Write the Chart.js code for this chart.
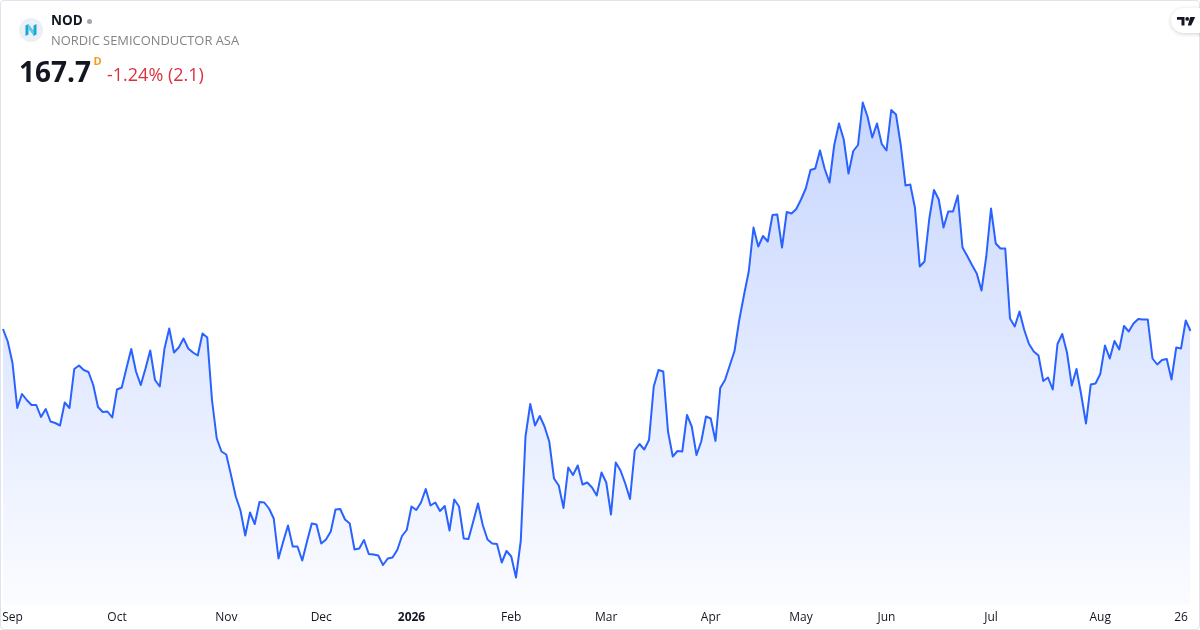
<!DOCTYPE html>
<html>
<head>
<meta charset="utf-8">
<script src="https://cdn.jsdelivr.net/npm/chart.js@4.4.1/dist/chart.umd.min.js"></script>
<style>
html,body{margin:0;padding:0;background:#fff;}
#wrap{position:relative;width:1200px;height:630px;overflow:hidden;font-family:'Open Sans',sans-serif;}
#c{position:absolute;left:0;top:0;}
.frame{position:absolute;left:0;top:0;width:1198px;height:628px;border:1px solid #e0e3eb;border-radius:4px;pointer-events:none;}
.t{position:absolute;white-space:nowrap;line-height:1;}
.tv{position:absolute;left:1171px;top:8px;width:44px;height:25px;border-radius:13px;background:#fff;box-shadow:0 1px 4px rgba(0,0,0,0.18);}
</style>
</head>
<body>
<div id="wrap">
  <canvas id="c" width="1200" height="630"></canvas>
  <div class="frame"></div>
  <svg style="position:absolute;left:19px;top:18px" width="24" height="24" viewBox="0 0 24 24">
    <circle cx="12" cy="12" r="12" fill="#eaf0f6"/>
    <polygon points="6.5,7.5 9.5,6 9.5,16.5 6.5,18" fill="#1aa6d6"/>
    <polygon points="9.5,6 14.5,12.5 14.5,17.5 9.5,11" fill="#5fc8e8"/>
    <polygon points="14.5,7.5 17.5,6 17.5,16.5 14.5,18" fill="#1aa6d6"/>
  </svg>
  <div class="t" style="left:51px;top:14px;font-size:13.5px;font-weight:700;color:#131722">NOD</div>
  <div style="position:absolute;left:86.8px;top:18.5px;width:5px;height:5px;border-radius:50%;background:#a3a6ad"></div>
  <div class="t" style="left:51px;top:33.6px;font-size:12.9px;color:#838383">NORDIC SEMICONDUCTOR ASA</div>
  <div class="t" style="left:19px;top:56.8px;font-size:28px;font-weight:700;color:#131722">167.7</div>
  <div class="t" style="left:93.5px;top:55.2px;font-size:11px;font-weight:700;color:#f59a1c">D</div>
  <div class="t" style="left:107px;top:65px;font-size:18px;color:#db3040">-1.24% (2.1)</div>
  <div class="tv">
    <svg style="position:absolute;left:6px;top:8.5px" width="19" height="9" viewBox="0 0 19 9">
      <path d="M0 0 H7.5 V8.5 H4.5 V2.8 H0 Z" fill="#131722"/>
      <circle cx="10.2" cy="1.9" r="1.9" fill="#131722"/>
      <polygon points="13.2,0 18.2,0 14.2,8.5 10.8,8.5" fill="#131722"/>
    </svg>
  </div>
</div>
<script>
// Daily closes, 28 Aug 2025 .. 28 Aug 2026 (trading days)
const values = [
168.1,165.6,161.3,152.3,155.1,153.9,152.9,152.9,150.5,152.1,
149.6,149.3,148.8,153.4,152.3,160.1,160.8,159.9,159.5,156.9,
152.5,151.5,151.6,150.4,156.0,156.4,160.3,164.1,159.6,156.9,
160.2,163.8,157.9,156.6,164.2,168.2,163.4,164.4,166.2,164.2,
163.4,162.8,167.2,166.4,153.9,146.2,143.6,143.0,138.9,134.6,
131.8,126.8,131.4,129.1,133.5,133.4,132.2,130.2,122.2,125.6,
128.8,124.6,124.6,121.8,125.6,129.2,129.0,125.2,126.0,127.6,
132.0,132.1,130.0,129.2,124.0,124.2,125.9,123.1,123.0,122.8,
120.9,122.2,122.4,123.9,126.7,127.9,132.6,131.9,133.4,136.1,
132.8,133.4,131.7,132.7,127.8,134.0,132.6,126.2,126.1,129.6,
133.2,128.9,126.0,125.2,125.1,121.4,123.7,122.6,118.4,125.7,
146.6,153.1,148.8,150.7,148.6,145.6,138.2,136.8,132.3,140.4,
138.9,140.8,137.0,137.4,136.4,134.8,139.4,137.4,131.0,141.4,
139.8,137.2,134.1,143.8,145.1,144.0,145.9,156.6,159.9,159.6,
147.6,142.6,143.7,143.6,150.9,148.6,142.9,145.6,150.6,150.2,
145.7,156.3,157.9,160.8,163.7,169.9,174.9,179.6,188.4,184.6,
186.7,185.6,190.9,191.0,184.4,191.5,191.2,192.1,194.0,196.2,
199.9,200.2,203.8,200.1,197.4,204.9,209.2,206.0,199.2,203.7,
204.9,213.4,210.6,206.4,209.2,205.1,203.8,211.9,211.0,204.9,
196.8,197.0,192.3,180.6,181.6,190.1,195.9,194.0,188.4,191.6,
191.6,194.8,184.4,182.7,180.9,179.2,175.8,182.6,192.2,185.2,
184.2,184.2,170.2,168.6,171.6,167.9,165.1,163.6,162.8,157.7,
158.4,156.0,165.1,167.1,163.4,156.8,160.1,154.9,149.2,157.0,
157.2,159.1,164.8,162.2,165.7,164.0,168.7,167.6,169.2,170.1,
170.0,170.0,162.2,161.0,161.9,162.1,158.0,164.4,164.2,169.8,
167.7
];
const dayIndex = values.map((_, i) => i);
const tickIndex = [2, 24, 47, 67, 86, 107, 127, 149, 168, 186, 208, 231, 248];
const tickLabels = ['Sep','Oct','Nov','Dec','2026','Feb','Mar','Apr','May','Jun','Jul','Aug','26'];
const boldLabels = ['2026'];

const TICK_FONT = 12, TICK_PAD = 5;
const PLOT_BOTTOM = 630 - (TICK_FONT * 1.2 + 2 * TICK_PAD);
const PX_PER_UNIT = 5, TOP_VALUE = 233.9;

new Chart(document.getElementById('c').getContext('2d'), {
  type: 'line',
  data: {
    labels: dayIndex,
    datasets: [{
      data: values,
      borderColor: '#2962FF',
      borderWidth: 2,
      pointRadius: 0,
      tension: 0,
      borderJoinStyle: 'round',
      fill: 'start',
      backgroundColor: (c) => {
        const a = c.chart.chartArea;
        if (!a) return 'rgba(41,98,255,0.15)';
        const g = c.chart.ctx.createLinearGradient(0, a.top, 0, a.bottom);
        g.addColorStop(0, 'rgba(41,98,255,0.31)');
        g.addColorStop(1, 'rgba(41,98,255,0.02)');
        return g;
      }
    }]
  },
  options: {
    responsive: false,
    animation: false,
    layout: { padding: { left: 3, right: 9.5, top: 0, bottom: 0 } },
    plugins: { legend: { display: false }, tooltip: { enabled: false } },
    scales: {
      x: {
        type: 'category',
        offset: false,
        grid: { display: false, drawTicks: false },
        border: { display: false },
        ticks: {
          autoSkip: false, maxRotation: 0, minRotation: 0,
          padding: TICK_PAD,
          color: '#131722',
          font: (c) => {
            const lbl = c.tick ? c.tick.label : null;
            return { family: "'Open Sans', sans-serif", size: TICK_FONT, weight: boldLabels.includes(lbl) ? 'bold' : 'normal' };
          },
          callback: (v, i) => {
            const k = tickIndex.indexOf(i);
            return k >= 0 ? tickLabels[k] : null;
          }
        },
        afterFit: (s) => { s.paddingLeft = 0; s.paddingRight = 0; }
      },
      y: {
        display: false,
        min: TOP_VALUE - PLOT_BOTTOM / PX_PER_UNIT,
        max: TOP_VALUE
      }
    }
  }
});
</script>
</body>
</html>
